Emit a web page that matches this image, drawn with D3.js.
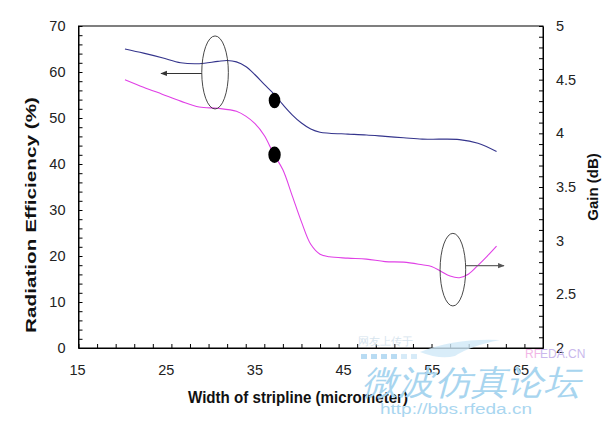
<!DOCTYPE html>
<html>
<head>
<meta charset="utf-8">
<script src="https://cdn.jsdelivr.net/npm/d3@7/dist/d3.min.js"></script>
<style>
  html, body { margin: 0; padding: 0; background: #fff; }
  svg { display: block; }
  text { font-family: "Liberation Sans", Arial, Helvetica, sans-serif; }
</style>
</head>
<body>
<svg id="chart" width="608" height="422"></svg>
<script>
// ---- data ----
const effWidths = [20,22,24,26,28,30,31,32,33,34,35,36,37,38,39,40,41,42,44,46,48,50,52,54,56,58,60];
const effValues = [65.0,64.1,63.1,62.0,61.8,62.3,62.5,62.2,61.2,59.4,57.3,55.3,52.9,50.7,48.9,47.6,46.9,46.7,46.5,46.3,46.0,45.7,45.4,45.4,45.3,44.5,42.7];

const gainWidths = [20,22,24,26,28,30,32,33,34,35,36,37,38,39,40,41,42,44,46,48,50,52,53,54,55,56,57,58,59,60];
const gainValues = [4.50,4.43,4.365,4.30,4.245,4.233,4.205,4.16,4.09,3.98,3.81,3.66,3.42,3.175,2.966,2.874,2.85,2.837,2.828,2.805,2.80,2.775,2.76,2.715,2.67,2.655,2.69,2.77,2.857,2.95];

const xTickLabels = [15,25,35,45,55,65];
const effTickLabels = [0,10,20,30,40,50,60,70];
const gainTickLabels = [2,2.5,3,3.5,4,4.5,5];

const xTitle = "Width of stripline (micrometer)";
const effTitle = "Radiation Efficiency (%)";
const gainTitle = "Gain (dB)";

// marker dots (width, value)
const effDot = [36.1, 53.8];
const gainDot = [36.1, 3.80];
// annotation ellipses (width, value)
const effEllipse = [29.7, 59.9];
const gainEllipse = [55.3, 2.73];

// ---- layout ----
const L = 78.5, R = 543, T = 26, B = 348;
const svg = d3.select("#chart");

const x = d3.scaleLinear().domain([15, 65]).range([L, R]);
const xLab = d3.scaleLinear().domain([15, 65]).range([77, 520.5]);
const yEff = d3.scaleLinear().domain([0, 70]).range([B, T]);
const yGain = d3.scaleLinear().domain([2, 5]).range([B, T]);

// frame
svg.append("rect").attr("x", L).attr("y", T).attr("width", R - L).attr("height", B - T)
  .attr("fill", "#fff").attr("stroke", "#000").attr("stroke-width", 1);

// axes
const styleAxis = g => {
  g.selectAll("path.domain").attr("stroke", "#000");
  g.selectAll(".tick line").attr("stroke", "#000");
  g.selectAll("text").attr("font-size", "14.5px").attr("fill", "#222");
};

svg.append("g").attr("transform", `translate(${L},0)`)
  .call(d3.axisLeft(yEff).tickValues(d3.range(0, 71, 2)).tickSizeInner(-4).tickSizeOuter(0)
    .tickPadding(13).tickFormat(d => effTickLabels.includes(d) ? d : ""))
  .call(styleAxis);

svg.append("g").attr("transform", `translate(${R},0)`)
  .call(d3.axisRight(yGain).tickValues(d3.range(0, 31).map(i => 2 + i / 10)).tickSizeInner(-4).tickSizeOuter(0)
    .tickPadding(13).tickFormat(d => gainTickLabels.some(v => Math.abs(v - d) < 1e-6) ? d3.format("~g")(d) : ""))
  .call(styleAxis);

svg.append("g").attr("transform", `translate(0,${B})`)
  .call(d3.axisBottom(x).tickValues(d3.range(15, 66, 2)).tickSizeInner(-4).tickSizeOuter(0).tickFormat(""))
  .call(styleAxis);

svg.append("g").attr("transform", `translate(0,${B})`)
  .call(d3.axisBottom(xLab).tickValues(xTickLabels).tickSize(0).tickPadding(17))
  .call(g => g.select("path.domain").remove())
  .call(styleAxis);

// titles
svg.append("text").attr("x", 298).attr("y", 403).attr("text-anchor", "middle")
  .attr("font-size", "17px").attr("font-weight", "bold").attr("fill", "#111")
  .attr("textLength", 220).attr("lengthAdjust", "spacingAndGlyphs").text(xTitle);

svg.append("text").attr("transform", "translate(36,215) rotate(-90)").attr("text-anchor", "middle")
  .attr("font-size", "15px").attr("font-weight", "bold").attr("fill", "#111")
  .attr("textLength", 236).attr("lengthAdjust", "spacingAndGlyphs").text(effTitle);

svg.append("text").attr("transform", "translate(598,187) rotate(-90)").attr("text-anchor", "middle")
  .attr("font-size", "15px").attr("font-weight", "bold").attr("fill", "#111")
  .text(gainTitle);

// lines
const effLine = d3.line().x((d, i) => x(effWidths[i])).y(d => yEff(d)).curve(d3.curveCatmullRom.alpha(0.5));
const gainLine = d3.line().x((d, i) => x(gainWidths[i])).y(d => yGain(d)).curve(d3.curveCatmullRom.alpha(0.5));

svg.append("path").attr("d", effLine(effValues)).attr("fill", "none")
  .attr("stroke", "#34348c").attr("stroke-width", 1.1);
svg.append("path").attr("d", gainLine(gainValues)).attr("fill", "none")
  .attr("stroke", "#e040e6").attr("stroke-width", 1.1);

// annotations: ellipses + arrows
const defs = svg.append("defs");
["a1", "a2"].forEach((id, k) => {
  defs.append("marker").attr("id", id).attr("viewBox", "0 0 10 10").attr("refX", 9).attr("refY", 5)
    .attr("markerWidth", 6).attr("markerHeight", 6).attr("orient", "auto-start-reverse")
    .append("path").attr("d", "M0,1 L10,5 L0,9 Z").attr("fill", k === 0 ? "#333" : "#555");
});

const e1x = x(effEllipse[0]), e1y = yEff(effEllipse[1]);
svg.append("ellipse").attr("cx", e1x).attr("cy", e1y).attr("rx", 13.3).attr("ry", 36.5)
  .attr("fill", "none").attr("stroke", "#333").attr("stroke-width", 0.9);
svg.append("line").attr("x1", e1x - 13.3).attr("y1", e1y + 1).attr("x2", 161).attr("y2", e1y + 1)
  .attr("stroke", "#333").attr("stroke-width", 1.1).attr("marker-end", "url(#a1)");

const e2x = x(gainEllipse[0]), e2y = yGain(gainEllipse[1]);
svg.append("ellipse").attr("cx", e2x).attr("cy", e2y).attr("rx", 12.8).attr("ry", 36.3)
  .attr("fill", "none").attr("stroke", "#333").attr("stroke-width", 0.9);
svg.append("line").attr("x1", e2x + 12.8).attr("y1", e2y - 4).attr("x2", 504).attr("y2", e2y - 4)
  .attr("stroke", "#666").attr("stroke-width", 1.1).attr("marker-end", "url(#a2)");

// dots
svg.append("ellipse").attr("cx", x(effDot[0])).attr("cy", yEff(effDot[1])).attr("rx", 5.8).attr("ry", 7.8).attr("fill", "#000");
svg.append("ellipse").attr("cx", x(gainDot[0])).attr("cy", yGain(gainDot[1])).attr("rx", 6.2).attr("ry", 8.2).attr("fill", "#000");

// watermark
const wm = svg.append("g").attr("pointer-events", "none");
wm.append("path").attr("d", "M420,352 Q455,338 500,340 Q470,346 455,356 Q440,360 420,352 Z")
  .attr("fill", "#cfe8f7").attr("opacity", 0.8);
d3.range(6).forEach(i => wm.append("rect").attr("x", 361 + i * 10).attr("y", 354).attr("width", 6).attr("height", 5)
  .attr("fill", i < 4 ? "#b9dcf3" : "#d7ebf8"));
wm.append("text").attr("x", 358).attr("y", 345).attr("font-size", "11px").attr("fill", "#d6e4ee")
  .attr("font-family", "Noto Sans CJK SC").text("网友上传于");
wm.append("text").attr("x", 525).attr("y", 358).attr("font-size", "12px").attr("fill", "#f2b6e6").text("RF");
wm.append("text").attr("x", 540).attr("y", 358).attr("font-size", "12px").attr("fill", "#c9b8ec").text("EDA.CN");
wm.append("text").attr("x", 362).attr("y", 394).attr("font-size", "34px").attr("fill", "#a8d5ef")
  .attr("font-family", "Noto Sans CJK SC").attr("font-style", "italic")
  .attr("textLength", 218).attr("lengthAdjust", "spacingAndGlyphs").text("微波仿真论坛");
wm.append("text").attr("x", 380).attr("y", 414).attr("font-size", "14px").attr("fill", "#a9d6f0")
  .attr("font-family", "DejaVu Sans Mono").attr("textLength", 152).attr("lengthAdjust", "spacingAndGlyphs")
  .text("http://bbs.rfeda.cn");
</script>
</body>
</html>
